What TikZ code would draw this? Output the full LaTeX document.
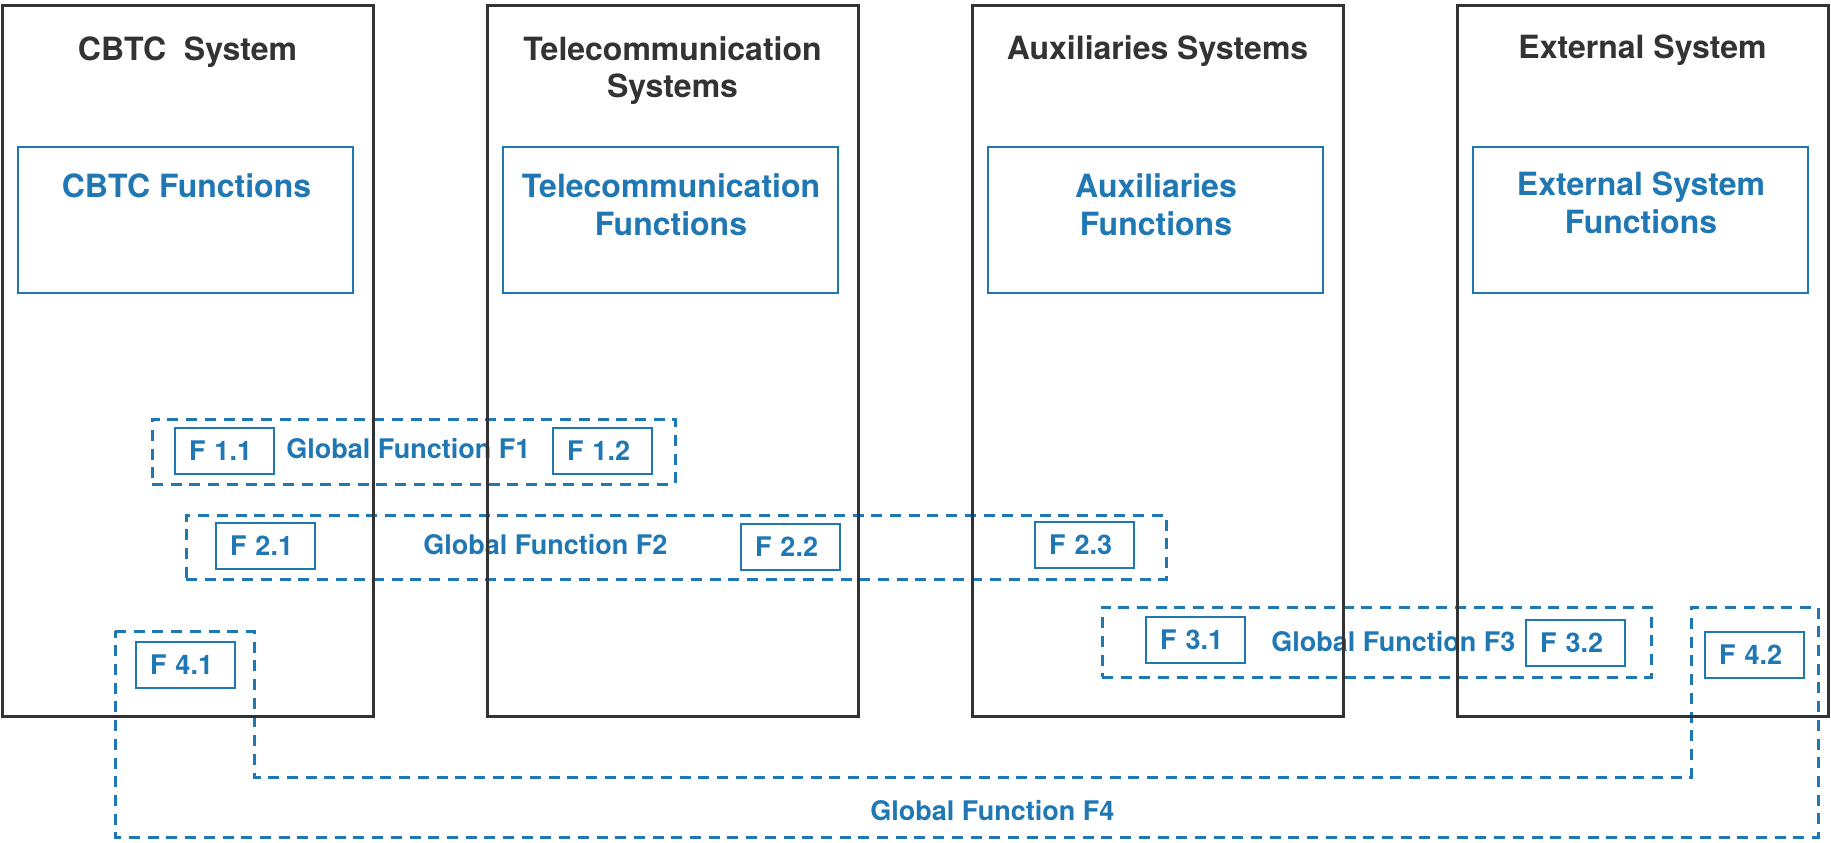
\documentclass[tikz,border=0pt]{standalone}
\usepackage{fontspec}
\setmainfont{TeX Gyre Heros}
\definecolor{fnblue}{HTML}{1F77B4}
\definecolor{sysgray}{HTML}{333333}
\begin{document}
\begin{tikzpicture}[x=0.5pt,y=-0.5pt,
  sysbox/.style={draw=sysgray, line width=1.5pt, minimum width=185.5pt,
    minimum height=355.5pt, anchor=north west, inner sep=0pt, outer sep=0pt},
  systitle/.style={text=sysgray, font=\fontsize{16}{18.5}\selectfont\bfseries,
    inner sep=0pt, anchor=base},
  fnbox/.style={draw=fnblue, line width=1.4pt, minimum width=167.5pt,
    minimum height=73pt, anchor=north west, inner sep=0pt, outer sep=0pt},
  fntitle/.style={text=fnblue, font=\fontsize{16}{19}\selectfont\bfseries,
    inner sep=0pt, anchor=base},
  subfn/.style={draw=fnblue, line width=1.4pt, text=fnblue,
    font=\fontsize{13.5}{16}\selectfont\bfseries, text width=35.5pt,
    align=left, inner xsep=7pt, inner ysep=0pt, minimum height=23pt,
    anchor=north west, outer sep=0pt},
  dashline/.style={draw=fnblue, line width=1.5pt, dash pattern=on 5.5pt off 3.85pt},
  globalbox/.style={dashline, anchor=north west, inner sep=0pt, outer sep=0pt},
  globallabel/.style={text=fnblue, font=\fontsize{13.5}{16}\selectfont\bfseries,
    inner sep=0pt, anchor=west}
]
\useasboundingbox (0,0) rectangle (1831,842);

% Global function groupings (dashed)
\node[globalbox, minimum width=261.5pt, minimum height=32.5pt] (gf1) at (152,419) {};
\node[globalbox, minimum width=490pt, minimum height=32pt] (gf2) at (186,515) {};
\node[globalbox, minimum width=274.5pt, minimum height=35pt] (gf3) at (1102,607) {};
\coordinate (g4a) at (115,631);
\coordinate (g4b) at (254,631);
\coordinate (g4c) at (254,777);
\coordinate (g4d) at (1691,777);
\coordinate (g4e) at (1691,607);
\coordinate (g4f) at (1818,607);
\coordinate (g4g) at (1818,837);
\coordinate (g4h) at (115,837);
\draw[dashline]
  (g4a) -- (g4b) -- (g4c) -- (g4d) -- (g4e) -- (g4f) -- (g4g) -- (g4h) -- cycle;

\node[globallabel] (lf1) at (286,449) {Global Function F1};
\node[globallabel] (lf2) at (423,545) {Global Function F2};
\node[globallabel] (lf3) at (1271,642) {Global Function F3};
\node[globallabel] (lf4) at (870,811) {Global Function F4};

% Sub-functions
\node[subfn] (f11) at (175,428) {F 1.1};
\node[subfn] (f12) at (553,428) {F 1.2};
\node[subfn] (f21) at (216,523) {F 2.1};
\node[subfn] (f22) at (741,524) {F 2.2};
\node[subfn] (f23) at (1035,522) {F 2.3};
\node[subfn] (f31) at (1146,617) {F 3.1};
\node[subfn] (f32) at (1526,620) {F 3.2};
\node[subfn] (f41) at (136,642) {F 4.1};
\node[subfn] (f42) at (1705,632) {F 4.2};

% Function blocks
\node[fnbox] (cbtcfn) at (18,147) {};
\node[fnbox] (telfn) at (503,147) {};
\node[fnbox] (auxfn) at (988,147) {};
\node[fnbox] (extfn) at (1473,147) {};
\node[fntitle] at (186.5,197) {CBTC Functions};
\node[fntitle] at (671,197) {\begin{tabular}[t]{@{}c@{}}Telecommunication\\Functions\end{tabular}};
\node[fntitle] at (1156,197) {\begin{tabular}[t]{@{}c@{}}Auxiliaries\\Functions\end{tabular}};
\node[fntitle] at (1641,195) {\begin{tabular}[t]{@{}c@{}}External System\\Functions\end{tabular}};

% Systems
\node[sysbox] (cbtc) at (2,5) {};
\node[sysbox] (tel) at (487,5) {};
\node[sysbox] (aux) at (972,5) {};
\node[sysbox] (ext) at (1457,5) {};
\node[systitle] at (187.5,60) {CBTC~~System};
\node[systitle] at (672.5,60) {\begin{tabular}[t]{@{}c@{}}Telecommunication\\Systems\end{tabular}};
\node[systitle] at (1157.5,59) {Auxiliaries Systems};
\node[systitle] at (1642.5,58) {External System};
\end{tikzpicture}
\end{document}
